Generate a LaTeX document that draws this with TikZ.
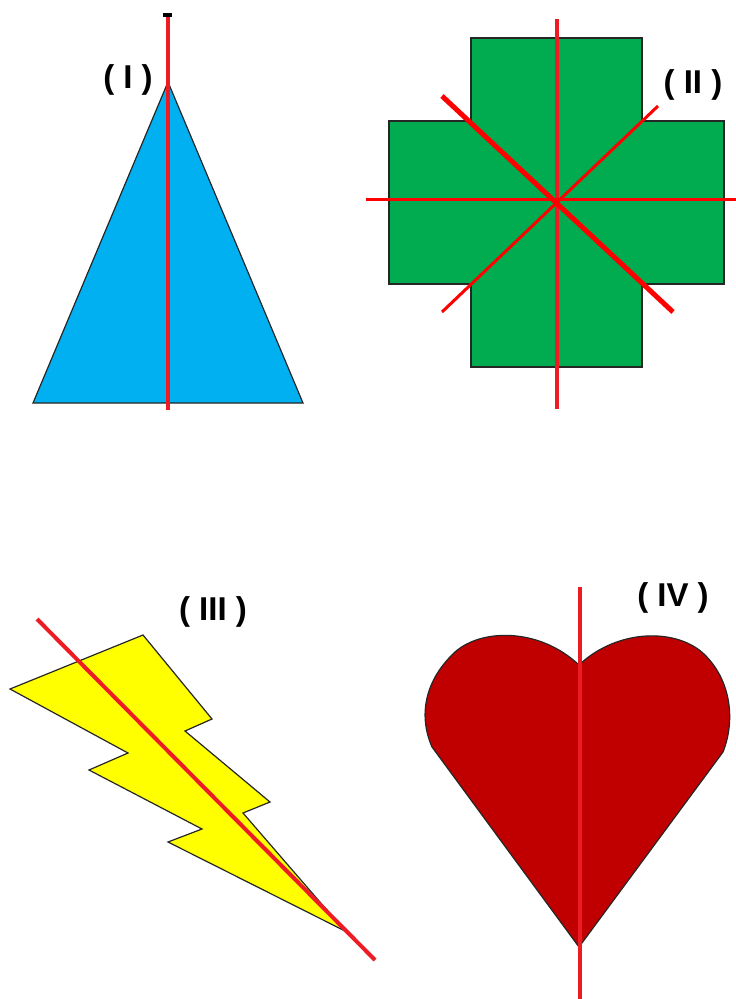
\documentclass[tikz,border=0pt]{standalone}
\usepackage{fontspec}
\setmainfont{Liberation Sans}
\usepackage{xcolor}
\usepackage{tikz}
\usetikzlibrary{calc}

\definecolor{triblue}{HTML}{00B0F0}
\definecolor{crossgreen}{HTML}{00AC4F}
\definecolor{boltyellow}{HTML}{FFFF00}
\definecolor{heartred}{HTML}{C00000}
\definecolor{axisred}{HTML}{ED1C24}

\begin{document}
\begin{tikzpicture}[
  x=1pt, y=-1pt,
  shapeedge/.style={draw=black!85, line width=1.2pt, line join=miter},
  symline/.style={draw=axisred, line width=4pt},
  diagline/.style={draw=red, line width=3pt},
  lbl/.style={font=\fontsize{33}{33}\selectfont\bfseries, inner sep=0pt}
]
\useasboundingbox (0,0) rectangle (736,999);

% (I) triangle
\filldraw[shapeedge, fill=triblue] (168,82) -- (303,403) -- (33,403) -- cycle;
\draw[symline] (168,17) -- (168,410);
\fill[black] (163,13) rectangle (172,17);
\node[lbl] (labI) at (128,80) {( I )};

% (II) cross
\filldraw[shapeedge, fill=crossgreen]
  (471,38) -- (642,38) -- (642,121) -- (724,121) -- (724,284) -- (642,284)
  -- (642,367) -- (471,367) -- (471,284) -- (389,284) -- (389,121) -- (471,121) -- cycle;
\coordinate (ctr) at (557,199);
\draw[symline] (557,19) -- (557,409);
\draw[diagline] (366,199) -- (736,199);
\draw[diagline, line width=5pt] (442,96) -- (673,312);
\draw[diagline] (442,312) -- (658,106);
\node[lbl] (labII) at (693,85) {( II )};

% (III) lightning bolt
\filldraw[shapeedge, fill=boltyellow]
  (143,635) -- (10,689) -- (128,753) -- (89,770) -- (202,829) -- (168,842)
  -- (345,931) -- (243,813) -- (270,802) -- (185,731) -- (212,719) -- cycle;
\draw[symline] (37,619) -- (375,960);
\node[lbl] (labIII) at (213,612) {( III )};

% (IV) heart
\filldraw[shapeedge, fill=heartred]
  (579,947) -- (432,747)
  .. controls (418,715) and (425,680) .. (455,652)
  .. controls (482,628) and (540,628) .. (579,665)
  .. controls (618,628) and (678,628) .. (705,655)
  .. controls (732,682) and (735,722) .. (723,752)
  -- cycle;
\draw[symline] (580,587) -- (580,999);
\node[lbl] (labIV) at (673,598) {( IV )};
\end{tikzpicture}
\end{document}
